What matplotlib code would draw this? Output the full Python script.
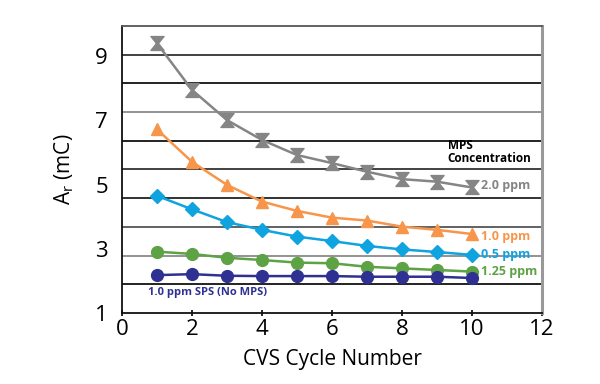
import numpy as np
import matplotlib
matplotlib.use("Agg")
import matplotlib.pyplot as plt

plt.rcParams['font.family'] = ['Open Sans', 'DejaVu Sans']

cycles = [1, 2, 3, 4, 5, 6, 7, 8, 9, 10]
mps_2_0 = [9.40, 7.95, 7.01, 6.39, 5.92, 5.67, 5.40, 5.17, 5.09, 4.91]
mps_1_0 = [6.72, 5.71, 4.99, 4.47, 4.18, 3.97, 3.88, 3.69, 3.59, 3.46]
mps_0_5 = [4.65, 4.23, 3.83, 3.59, 3.38, 3.24, 3.09, 2.98, 2.90, 2.81]
mps_1_25 = [2.91, 2.84, 2.72, 2.65, 2.57, 2.55, 2.44, 2.39, 2.34, 2.29]
sps_only = [2.18, 2.21, 2.16, 2.15, 2.15, 2.15, 2.13, 2.13, 2.13, 2.09]

x_ticks = [0, 2, 4, 6, 8, 10, 12]
y_ticks = [1, 3, 5, 7, 9]

c_gray = '#858585'
c_orange = '#F7964A'
c_blue = '#0FA3E0'
c_green = '#5DA345'
c_navy = '#2E3192'

fig = plt.figure(figsize=(6, 3.84), dpi=100)
ax = fig.add_axes([0.2033, 0.1849, 0.70, 0.7474])

ymin, ymax = 1, 9.94
ax.set_xlim(0, 12)
ax.set_ylim(ymin, ymax)

grid_colors = ['#111111', '#8a8a8a', '#555555', '#222222', '#333333',
               '#111111', '#8a8a8a', '#111111', '#333333']
grid_pos = np.linspace(ymin, ymax, 11)[1:-1]
for gy, gc in zip(grid_pos, grid_colors):
    ax.axhline(gy, color=gc, lw=1.3, zorder=1)

ax.plot(cycles, mps_2_0, color=c_gray, lw=1.8, marker='$\u29D7$', ms=10, zorder=3)
ax.plot(cycles, mps_1_0, color=c_orange, lw=1.8, marker='^', ms=9, zorder=3)
ax.plot(cycles, mps_0_5, color=c_blue, lw=1.8, marker='D', ms=7.5, zorder=3)
ax.plot(cycles, mps_1_25, color=c_green, lw=1.8, marker='o', ms=8.5, zorder=3)
ax.plot(cycles, sps_only, color=c_navy, lw=1.8, marker='o', ms=8.5, zorder=4)

ax.set_xticks(x_ticks)
ax.set_yticks(y_ticks)
ax.tick_params(axis='x', labelsize=16, length=5, width=1.2, direction='inout', pad=2)
ax.tick_params(axis='y', labelsize=16, length=0, pad=10)

ax.spines['left'].set_color('#111111')
ax.spines['bottom'].set_color('#111111')
ax.spines['left'].set_linewidth(1.3)
ax.spines['bottom'].set_linewidth(1.3)
ax.spines['top'].set_color('#555555')
ax.spines['top'].set_linewidth(1.3)
ax.spines['right'].set_color('#999999')
ax.spines['right'].set_linewidth(2.2)

ax.set_xlabel('CVS Cycle Number', fontsize=15, labelpad=6)
ax.set_ylabel('A$_\\mathregular{r}$ (mC)', fontsize=15, labelpad=14)

ax.text(9.31, 6.02, 'MPS\nConcentration', fontsize=8.5, fontweight='bold',
        color='black', ha='left', va='center', linespacing=1.0)
ax.text(10.25, 4.96, '2.0 ppm', fontsize=9, fontweight='bold', color=c_gray, va='center')
ax.text(10.25, 3.37, '1.0 ppm', fontsize=9, fontweight='bold', color=c_orange, va='center')
ax.text(10.25, 2.81, '0.5 ppm', fontsize=9, fontweight='bold', color=c_blue, va='center')
ax.text(10.25, 2.28, '1.25 ppm', fontsize=9, fontweight='bold', color=c_green, va='center')
ax.text(0.75, 1.65, '1.0 ppm SPS (No MPS)', fontsize=8, fontweight='bold', color=c_navy, va='center')

fig.savefig('out.png', dpi=100)
